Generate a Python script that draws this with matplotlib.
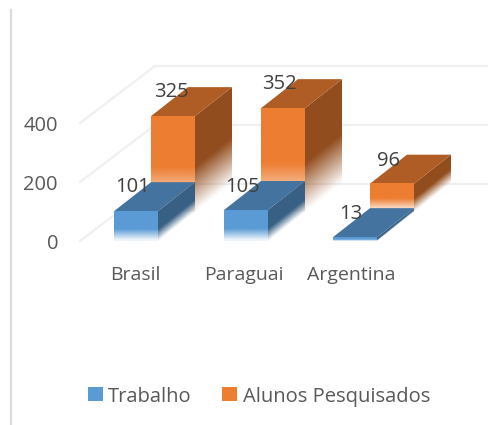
import numpy as np
import matplotlib
matplotlib.use("Agg")
import matplotlib.pyplot as plt
from matplotlib.patches import Polygon, Rectangle
from matplotlib.colors import to_rgb

plt.rcParams['font.family'] = ['Open Sans', 'DejaVu Sans']

categories = ['Brasil', 'Paraguai', 'Argentina']
trabalho = [101, 105, 13]
alunos = [325, 352, 96]
y_ticks = [0, 200, 400]
series_names = ['Trabalho', 'Alunos Pesquisados']

BLUE = '#5b9bd5'
ORANGE = '#ed7d31'
TEXT = '#595959'
GRID = '#f0f0f0'

# pixel axes, values go through to_px
fig = plt.figure(figsize=(4.95, 4.25), dpi=100)
ax = fig.add_axes([0, 0, 1, 1])
ax.set_xlim(0, 495)
ax.set_ylim(425, 0)
ax.axis('off')

PX_PER_UNIT = 0.295
BASE_Y = 241
DX, DY = 37, -29
BAR_W = 44
CAT_X = [114, 224, 333]


def to_px(v, base=BASE_Y):
    return base - v * PX_PER_UNIT


def mix(color, k):
    return tuple(c * k for c in to_rgb(color))


def fade_front(x, top, bot, color, zorder, fade):
    # front face, lower edge fades out to white
    ny = max(int((bot - top) * 3), 2)
    ys = np.linspace(top, bot, ny)
    img = np.zeros((ny, 2, 4))
    img[..., :3] = to_rgb(color)
    a = np.clip((bot - ys) / fade, 0.1, 1)
    img[:, :, 3] = np.stack([a, a], axis=1)
    ax.imshow(img, extent=(x, x + BAR_W, bot, top), aspect='auto', zorder=zorder,
              interpolation='bilinear')


def fade_side(x, top, bot, color, zorder, fade):
    # side face, fades along its lower slanted edge
    x0 = x + BAR_W
    pts = np.array([[x0, top], [x0 + DX, top + DY], [x0 + DX, bot + DY], [x0, bot]])
    poly = Polygon(pts, closed=True, fc='none', ec='none')
    ax.add_patch(poly)
    nx, ny = 40, 200
    xs = np.linspace(x0, x0 + DX, nx)
    ys = np.linspace(top + DY, bot, ny)
    xx, yy = np.meshgrid(xs, ys)
    edge = bot + (xx - x0) * DY / DX
    img = np.zeros((ny, nx, 4))
    img[..., :3] = to_rgb(color)
    img[..., 3] = np.clip((edge - yy) / fade, 0.02, 1)
    im = ax.imshow(img, extent=(x0, x0 + DX, bot, top + DY), aspect='auto',
                   zorder=zorder, interpolation='bilinear')
    im.set_clip_path(poly)


def bar3d(x, base, value, color, zorder, fade_k):
    top = to_px(value, base)
    h = base - top
    fade = max(h * fade_k, 1)
    fade_side(x, top, base, mix(color, 0.62), zorder, fade)
    ax.add_patch(Polygon([[x, top], [x + DX, top + DY], [x + BAR_W + DX, top + DY], [x + BAR_W, top]],
                         closed=True, fc=mix(color, 0.74), ec='none', zorder=zorder + 0.1))
    fade_front(x, top, base, color, zorder + 0.2, fade)


# gridlines, side wall then back wall
for v in y_ticks:
    y_back = to_px(v, 184)
    ax.plot([80, 155], [to_px(v), y_back], color=GRID, lw=1.6, zorder=1)
    ax.plot([155, 487], [y_back, y_back], color=GRID, lw=1.6, zorder=1)

# left border of the picture
ax.plot([10.5, 10.5], [10, 425], color='#dcdcdc', lw=1.6, zorder=1)

for v in y_ticks:
    ax.text(58, to_px(v) + 3, str(v), ha='right', va='center', fontsize=14.5, color=TEXT)

label_x = [135, 244, 351]
for i, cat in enumerate(categories):
    x = CAT_X[i]
    # orange sits behind the blue one
    bar3d(x + DX, BASE_Y + DY, alunos[i], ORANGE, 3, 0.47)
    bar3d(x, BASE_Y, trabalho[i], BLUE, 5, 0.4)
    ax.text(label_x[i], 275, cat, ha='center', va='center', fontsize=14, color=TEXT)

# value labels
label_xy_a = [(171, 92), (279, 84), (388, 161)]
label_xy_b = [(133, 187), (242, 187), (351, 214)]
for (lx, ly), v in zip(label_xy_a, alunos):
    ax.text(lx, ly, str(v), ha='center', va='center', fontsize=14.5, color='#404040', zorder=10)
for (lx, ly), v in zip(label_xy_b, trabalho):
    ax.text(lx, ly, str(v), ha='center', va='center', fontsize=14.5, color='#404040', zorder=10)

# legend
ax.add_patch(Rectangle((88, 387), 15, 14, fc=BLUE, ec='none'))
ax.add_patch(Rectangle((222, 387), 15, 14, fc=ORANGE, ec='none'))
ax.text(108, 397, series_names[0], ha='left', va='center', fontsize=14.5, color=TEXT)
ax.text(243, 397, series_names[1], ha='left', va='center', fontsize=14.5, color=TEXT)

ax.set_xlim(0, 495)
ax.set_ylim(425, 0)
fig.savefig('out.png', dpi=100)
